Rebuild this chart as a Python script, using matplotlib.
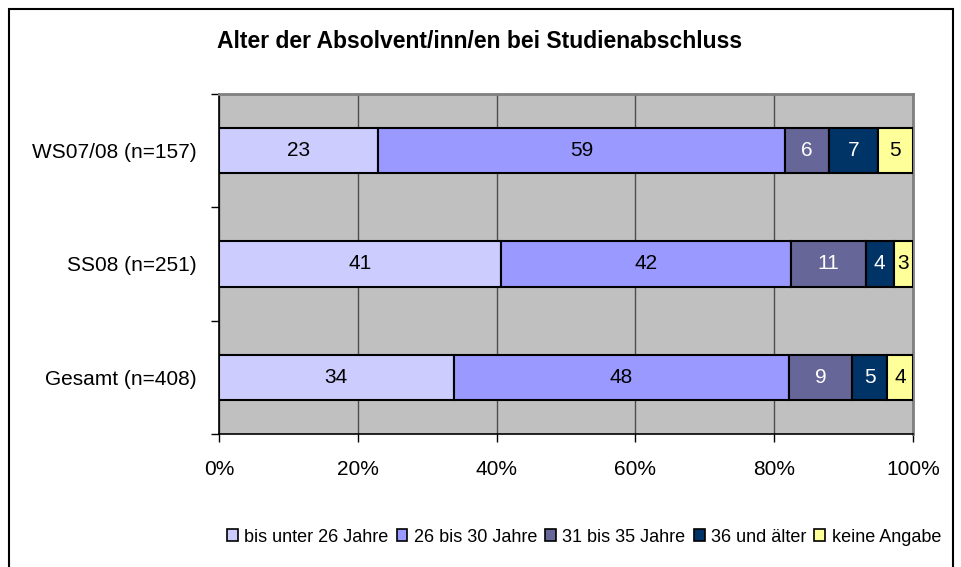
import matplotlib
matplotlib.use("Agg")
import matplotlib.pyplot as plt
from matplotlib.patches import Rectangle
import numpy as np

plt.rcParams['font.family'] = ['Liberation Sans', 'DejaVu Sans']

groups = ['WS07/08 (n=157)', 'SS08 (n=251)', 'Gesamt (n=408)']
series = ['bis unter 26 Jahre', '26 bis 30 Jahre', '31 bis 35 Jahre', '36 und älter', 'keine Angabe']
colors = ['#CCCCFF', '#9999FF', '#666699', '#003366', '#FFFF99']
text_colors = ['black', 'black', 'white', 'white', 'black']

# percent values per series (rows = series, cols = groups)
bis26 = [22.9, 40.6, 33.8]
j26_30 = [58.6, 41.8, 48.3]
j31_35 = [6.4, 10.8, 9.1]
j36 = [7.0, 4.0, 5.1]
keine = [5.1, 2.8, 3.7]
values = np.array([bis26, j26_30, j31_35, j36, keine])

fig = plt.figure(figsize=(9.61, 5.67), dpi=100)
ax = fig.add_axes([0.2279, 0.2346, 0.7222, 0.5996])
ax.set_facecolor('#C0C0C0')

y = np.arange(len(groups))
left = np.zeros(len(groups))
for i, name in enumerate(series):
    ax.barh(y, values[i], left=left, height=0.4, color=colors[i],
            edgecolor='black', linewidth=1.5, label=name, zorder=3)
    for j in range(len(groups)):
        ax.text(left[j] + values[i][j] / 2, y[j], '%d' % round(values[i][j]),
                ha='center', va='center', fontsize=15, color=text_colors[i], zorder=4)
    left = left + values[i]

ax.set_xlim(0, 100)
ax.set_ylim(len(groups) - 0.5, -0.5)
ax.set_xticks(range(0, 101, 20))
ax.set_xticklabels(['%d%%' % v for v in range(0, 101, 20)], fontsize=15)
ax.grid(axis='x', color='#4d4d4d', linewidth=1, zorder=1)
ax.set_axisbelow(True)

ax.set_yticks(np.arange(-0.5, len(groups), 1))
ax.set_yticklabels([])
ax.set_yticks(y, minor=True)
ax.set_yticklabels(groups, minor=True, fontsize=15)
ax.tick_params(axis='y', which='minor', length=0, pad=16)
ax.tick_params(axis='y', which='major', direction='out', length=6, width=1)
ax.tick_params(axis='x', direction='out', length=6, width=1, pad=13)

for s in ['top', 'right']:
    ax.spines[s].set_color('#808080')
    ax.spines[s].set_linewidth(2)
for s in ['left', 'bottom']:
    ax.spines[s].set_color('black')
    ax.spines[s].set_linewidth(1.2)

fig.text(480 / 961, 1 - 42 / 567, 'Alter der Absolvent/inn/en bei Studienabschluss',
         ha='center', va='center', fontsize=16.5, fontweight='bold')

leg = fig.legend(loc='center', bbox_to_anchor=(584 / 961, 1 - 537 / 567), ncol=5,
                 frameon=False, fontsize=13, handlelength=0.6, handleheight=0.6,
                 handletextpad=0.35, columnspacing=0.45, borderaxespad=0)
for h in leg.legend_handles:
    h.set_linewidth(1.2)

fig.patches.append(Rectangle((9 / 961, -0.1), (953 - 9) / 961, 1.1 - 9 / 567,
                             transform=fig.transFigure, fill=False,
                             edgecolor='black', linewidth=1.5))

fig.savefig('out.png', dpi=100)
